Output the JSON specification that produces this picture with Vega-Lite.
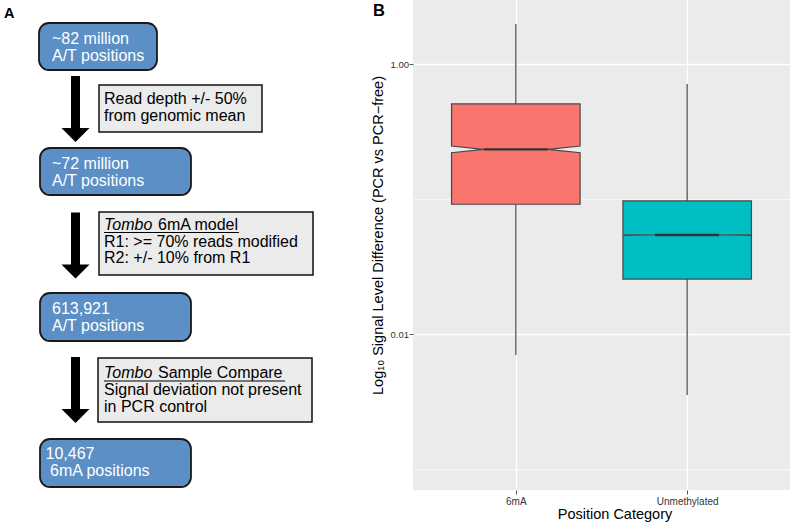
{
  "$schema": "https://vega.github.io/schema/vega-lite/v6.json",
  "padding": 0,
  "background": "white",
  "bounds": "flush",
  "spacing": 78,
  "config": {"view": {"stroke": null}, "font": "Liberation Sans"},
  "datasets": {
    "nodes": [
      {"id": "n1", "x0": 39, "x1": 157, "y0": 23, "y1": 70},
      {"id": "n2", "x0": 40, "x1": 191, "y0": 148, "y1": 195},
      {"id": "n3", "x0": 40, "x1": 191, "y0": 293, "y1": 341},
      {"id": "n4", "x0": 40, "x1": 191, "y0": 439, "y1": 487}
    ],
    "filters": [
      {"id": "f1", "x0": 99, "x1": 262, "y0": 85, "y1": 132},
      {"id": "f2", "x0": 99, "x1": 313, "y0": 212, "y1": 275},
      {"id": "f3", "x0": 98, "x1": 312, "y0": 358, "y1": 422}
    ],
    "arrows": [
      {"from": "n1", "to": "n2", "x": 75.5, "y": 109},
      {"from": "n2", "to": "n3", "x": 75.5, "y": 245.5},
      {"from": "n3", "to": "n4", "x": 75.5, "y": 390}
    ],
    "nodeText": [
      {"x": 52, "y": 44, "text": "~82 million"},
      {"x": 52, "y": 61, "text": "A/T positions"},
      {"x": 52, "y": 169, "text": "~72 million"},
      {"x": 52, "y": 186, "text": "A/T positions"},
      {"x": 52, "y": 314, "text": "613,921"},
      {"x": 52, "y": 331, "text": "A/T positions"},
      {"x": 45.5, "y": 459, "text": "10,467"},
      {"x": 50, "y": 476, "text": "6mA positions"}
    ],
    "boxText": [
      {"x": 104, "y": 104, "text": "Read depth +/- 50%"},
      {"x": 104, "y": 121, "text": "from genomic mean"},
      {"x": 158, "y": 230, "text": "6mA model"},
      {"x": 104, "y": 246.7, "text": "R1: >= 70% reads modified"},
      {"x": 104, "y": 263.4, "text": "R2: +/- 10% from R1"},
      {"x": 158, "y": 378.3, "text": "Sample Compare"},
      {"x": 104, "y": 395, "text": "Signal deviation not present"},
      {"x": 104, "y": 411.7, "text": "in PCR control"}
    ],
    "toolText": [
      {"x": 104, "y": 230, "text": "Tombo"},
      {"x": 104, "y": 378.3, "text": "Tombo"}
    ],
    "underlines": [
      {"x0": 104, "x1": 239, "y": 232.5},
      {"x0": 104, "x1": 285, "y": 381}
    ],
    "panels": [
      {"x": 4, "y": 17.5, "text": "A", "size": "a"},
      {"x": 373, "y": 16, "text": "B", "size": "b"}
    ],
    "stats": [
      {"cat": "6mA", "idx": 1, "lower": 0.00699, "q1": 0.0914, "notchLow": 0.2203, "median": 0.2334, "notchHigh": 0.247, "q3": 0.506, "upper": 1.98},
      {"cat": "Unmethylated", "idx": 2, "lower": 0.00353, "q1": 0.0255, "notchLow": 0.0537, "median": 0.0541, "notchHigh": 0.0545, "q3": 0.0967, "upper": 0.711}
    ]
  },
  "hconcat": [
    {
      "width": 335,
      "height": 522,
      "layer": [
        {
          "data": {"name": "nodes"},
          "mark": {"type": "rect", "cornerRadius": 10, "fill": "#5b8fc6", "stroke": "#1a1a1a", "strokeWidth": 1.8},
          "encoding": {
            "x": {"field": "x0", "type": "quantitative", "scale": {"domain": [0, 335], "nice": false, "zero": false}, "axis": null},
            "x2": {"field": "x1"},
            "y": {"field": "y0", "type": "quantitative", "scale": {"domain": [0, 522], "reverse": true, "nice": false, "zero": false}, "axis": null},
            "y2": {"field": "y1"}
          }
        },
        {
          "data": {"name": "filters"},
          "mark": {"type": "rect", "fill": "#ebebeb", "stroke": "#111111", "strokeWidth": 1.5},
          "encoding": {
            "x": {"field": "x0", "type": "quantitative", "axis": null},
            "x2": {"field": "x1"},
            "y": {"field": "y0", "type": "quantitative", "axis": null},
            "y2": {"field": "y1"}
          }
        },
        {
          "data": {"name": "arrows"},
          "mark": {"type": "point", "shape": "M-0.321,-2.357L0.321,-2.357L0.321,1.357L1,1.357L0,2.357L-1,1.357L-0.321,1.357Z", "size": 784, "filled": true, "fill": "black", "strokeWidth": 0, "opacity": 1},
          "encoding": {
            "x": {"field": "x", "type": "quantitative", "axis": null},
            "y": {"field": "y", "type": "quantitative", "axis": null}
          }
        },
        {
          "data": {"name": "nodeText"},
          "mark": {"type": "text", "align": "left", "baseline": "alphabetic", "fontSize": 16, "color": "white"},
          "encoding": {
            "x": {"field": "x", "type": "quantitative", "axis": null},
            "y": {"field": "y", "type": "quantitative", "axis": null},
            "text": {"field": "text"}
          }
        },
        {
          "data": {"name": "boxText"},
          "mark": {"type": "text", "align": "left", "baseline": "alphabetic", "fontSize": 16, "color": "black"},
          "encoding": {
            "x": {"field": "x", "type": "quantitative", "axis": null},
            "y": {"field": "y", "type": "quantitative", "axis": null},
            "text": {"field": "text"}
          }
        },
        {
          "data": {"name": "toolText"},
          "mark": {"type": "text", "align": "left", "baseline": "alphabetic", "fontSize": 16, "fontStyle": "italic", "color": "black"},
          "encoding": {
            "x": {"field": "x", "type": "quantitative", "axis": null},
            "y": {"field": "y", "type": "quantitative", "axis": null},
            "text": {"field": "text"}
          }
        },
        {
          "data": {"name": "underlines"},
          "mark": {"type": "rule", "color": "black", "strokeWidth": 1.2},
          "encoding": {
            "x": {"field": "x0", "type": "quantitative", "axis": null},
            "x2": {"field": "x1"},
            "y": {"field": "y", "type": "quantitative", "axis": null}
          }
        },
        {
          "data": {"name": "panels"},
          "mark": {"type": "text", "align": "left", "baseline": "alphabetic", "fontWeight": "bold", "color": "black"},
          "encoding": {
            "x": {"field": "x", "type": "quantitative", "axis": null},
            "y": {"field": "y", "type": "quantitative", "axis": null},
            "text": {"field": "text"},
            "size": {"field": "size", "type": "nominal", "scale": {"domain": ["a", "b"], "range": [14.5, 16.5]}, "legend": null}
          }
        }
      ]
    },
    {
      "width": 377,
      "height": 490,
      "view": {"fill": "#ebebeb", "stroke": null},
      "data": {"name": "stats"},
      "layer": [
        {
          "mark": {"type": "rule", "color": "#6b6b6b", "strokeWidth": 1.5},
          "encoding": {
            "x": {
              "field": "idx", "type": "quantitative",
              "scale": {"domain": [0.4, 2.6], "nice": false, "zero": false},
              "axis": {
                "values": [1, 2],
                "labelExpr": "datum.value == 1 ? '6mA' : 'Unmethylated'",
                "title": "Position Category",
                "grid": true, "gridColor": "white", "gridWidth": 1.3,
                "domain": false, "tickColor": "#555555", "tickSize": 4, "tickWidth": 1,
                "labelFont": "Liberation Sans", "labelFontSize": 10, "labelColor": "#333333", "labelPadding": 2.5,
                "titleFont": "Liberation Sans", "titleFontSize": 14.5, "titleFontWeight": "normal", "titleColor": "black", "titlePadding": 1,
                "titleX": 201.5
              }
            },
            "y": {
              "field": "upper", "type": "quantitative",
              "scale": {"type": "log", "domain": [0.000699, 2.979], "nice": false},
              "axis": {
                "values": [0.001, 0.01, 0.1, 1],
                "labelExpr": "datum.value == 1 ? '1.00' : (datum.value == 0.01 ? '0.01' : '')",
                "title": "Log₁₀ Signal Level Difference (PCR vs PCR−free)",
                "grid": true, "gridColor": "white",
                "gridWidth": {"condition": {"test": "datum.value == 0.1 || datum.value == 0.001", "value": 0.6}, "value": 1.3},
                "tickOpacity": {"condition": {"test": "datum.value == 0.1 || datum.value == 0.001", "value": 0}, "value": 1},
                "domain": false, "tickColor": "#555555", "tickSize": 4, "tickWidth": 1,
                "labelFont": "Liberation Sans", "labelFontSize": 9.5, "labelColor": "#333333", "labelPadding": 0.5,
                "titleFont": "Liberation Sans", "titleFontSize": 14.5, "titleFontWeight": "normal", "titleColor": "black", "titlePadding": 5,
                "titleY": 235
              }
            },
            "y2": {"field": "q3"}
          }
        },
        {
          "mark": {"type": "rule", "color": "#6b6b6b", "strokeWidth": 1.5},
          "encoding": {
            "x": {"field": "idx", "type": "quantitative"},
            "y": {"field": "q1", "type": "quantitative"},
            "y2": {"field": "lower"}
          }
        },
        {
          "transform": [
            {"fold": ["q1", "notchLow", "median", "notchHigh", "q3"], "as": ["stat", "v"]},
            {"calculate": "datum.stat === 'median' ? 0.1875 : 0.375", "as": "half"},
            {"calculate": "datum.idx - datum.half", "as": "xl"},
            {"calculate": "datum.idx + datum.half", "as": "xr"}
          ],
          "mark": {"type": "area", "orient": "horizontal", "stroke": "#474747", "strokeWidth": 1.2, "opacity": 1, "interpolate": "linear"},
          "encoding": {
            "y": {"field": "v", "type": "quantitative"},
            "x": {"field": "xl", "type": "quantitative"},
            "x2": {"field": "xr"},
            "fill": {"field": "cat", "type": "nominal", "scale": {"domain": ["6mA", "Unmethylated"], "range": ["#F8766D", "#00BFC4"]}, "legend": null}
          }
        },
        {
          "transform": [
            {"calculate": "datum.idx - 0.1875", "as": "ml"},
            {"calculate": "datum.idx + 0.1875", "as": "mr"}
          ],
          "mark": {"type": "rule", "color": "#333333", "strokeWidth": 2.3},
          "encoding": {
            "x": {"field": "ml", "type": "quantitative"},
            "x2": {"field": "mr"},
            "y": {"field": "median", "type": "quantitative"}
          }
        }
      ]
    }
  ]
}
